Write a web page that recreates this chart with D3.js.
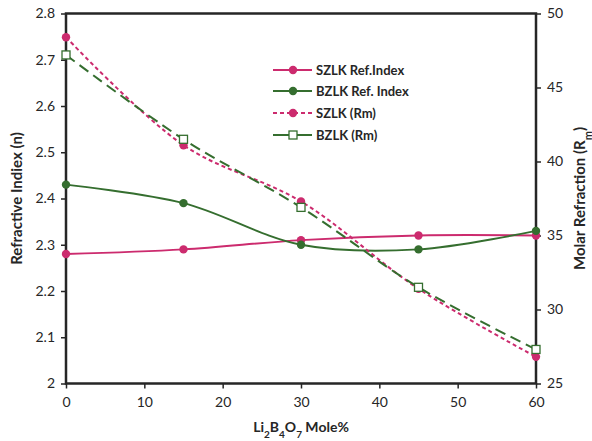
<!DOCTYPE html>
<html><head><meta charset="utf-8">
<script src="https://cdnjs.cloudflare.com/ajax/libs/d3/7.8.5/d3.min.js"></script>
<style>body{margin:0;background:#fff}svg{display:block}text{font-family:Lato,"Open Sans",sans-serif;fill:#262626}</style>
</head><body>
<svg id="c" width="592" height="441"></svg>
<script>
const xValues = [0, 15, 30, 45, 60];
const szlkRefIndex = [2.28, 2.29, 2.31, 2.32, 2.32];
const bzlkRefIndex = [2.43, 2.39, 2.30, 2.29, 2.33];
const szlkRm = [48.4, 41.1, 37.3, 31.4, 26.8];
const bzlkRm = [47.2, 41.5, 36.9, 31.5, 27.3];
const xTicks = [0, 10, 20, 30, 40, 50, 60];
const yLeftTicks = [2, 2.1, 2.2, 2.3, 2.4, 2.5, 2.6, 2.7, 2.8];
const yRightTicks = [25, 30, 35, 40, 45, 50];
const seriesNames = ["SZLK Ref.Index", "BZLK Ref. Index", "SZLK (Rm)", "BZLK (Rm)"];

const pink = "#CC2B6E", green = "#356E2F";
const svg = d3.select("#c");
const L = 66, R = 536, T = 13.5, B = 383.5;
const x = d3.scaleLinear().domain([0, 60]).range([L, R]);
const yL = d3.scaleLinear().domain([2, 2.8]).range([B, T]);
const yR = d3.scaleLinear().domain([25, 50]).range([B, T]);

// axes
const fmt = d => String(+d.toFixed(1));
const ax = svg.append("g").attr("transform", `translate(0,${B})`)
  .call(d3.axisBottom(x).tickValues(xTicks).tickSize(5).tickPadding(6).tickFormat(d3.format("d")));
const al = svg.append("g").attr("transform", `translate(${L},0)`)
  .call(d3.axisLeft(yL).tickValues(yLeftTicks).tickSize(5).tickPadding(6).tickFormat(fmt));
const ar = svg.append("g").attr("transform", `translate(${R},0)`)
  .call(d3.axisRight(yR).tickValues(yRightTicks).tickSize(5).tickPadding(6).tickFormat(d3.format("d")));
[ax, al, ar].forEach(g => {
  g.select(".domain").remove();
  g.selectAll(".tick line").attr("stroke", "#262626").attr("stroke-width", 1.5);
  g.selectAll(".tick text").style("font-size", "14px").attr("fill", "#262626");
});
ax.selectAll(".tick text").attr("dy", "0.9em");
// frame
svg.append("rect").attr("x", L).attr("y", T).attr("width", R - L).attr("height", B - T)
  .attr("fill", "none").attr("stroke", "#262626").attr("stroke-width", 2.5);

// series
const curve = d3.curveCatmullRom.alpha(0.5);
function drawLine(vals, scale, color, dash) {
  const line = d3.line().x((d, i) => x(xValues[i])).y(d => scale(d)).curve(curve);
  svg.append("path").datum(vals).attr("d", line).attr("fill", "none")
    .attr("stroke", color).attr("stroke-width", 2).attr("stroke-dasharray", dash);
}
drawLine(szlkRefIndex, yL, pink, null);
drawLine(bzlkRefIndex, yL, green, null);
drawLine(szlkRm, yR, pink, "4,3");
drawLine(bzlkRm, yR, green, "11,6");

function dots(vals, scale, color) {
  svg.append("g").selectAll("circle").data(vals).join("circle")
    .attr("cx", (d, i) => x(xValues[i])).attr("cy", d => scale(d)).attr("r", 4.2).attr("fill", color);
}
function squares(vals, scale, color) {
  svg.append("g").selectAll("rect").data(vals).join("rect")
    .attr("x", (d, i) => x(xValues[i]) - 4).attr("y", d => scale(d) - 4)
    .attr("width", 8).attr("height", 8).attr("fill", "#fff").attr("stroke", color).attr("stroke-width", 1.3);
}
dots(szlkRefIndex, yL, pink);
dots(bzlkRefIndex, yL, green);
dots(szlkRm, yR, pink);
squares(bzlkRm, yR, green);

// legend
const legY = [70, 91, 113, 135];
const legColors = [pink, green, pink, green];
const legDash = [null, null, "4,3", null];
seriesNames.forEach((name, i) => {
  const g = svg.append("g").attr("transform", `translate(273,${legY[i]})`);
  g.append("line").attr("x1", 0).attr("x2", 39).attr("y1", 0).attr("y2", 0)
    .attr("stroke", legColors[i]).attr("stroke-width", 2).attr("stroke-dasharray", legDash[i]);
  if (i === 3) {
    g.append("rect").attr("x", 16).attr("y", -4).attr("width", 8).attr("height", 8)
      .attr("fill", "#fff").attr("stroke", green).attr("stroke-width", 1.3);
  } else {
    g.append("circle").attr("cx", 20).attr("cy", 0).attr("r", 4.2).attr("fill", legColors[i]);
  }
  g.append("text").attr("x", 43).attr("y", 0).attr("dy", "0.35em")
    .style("font-size", "13px").style("font-weight", "bold").text(name);
});

// axis titles
const xt = svg.append("text").attr("x", (L + R) / 2).attr("y", 432).attr("text-anchor", "middle")
  .style("font-size", "14px").style("font-weight", "bold");
xt.append("tspan").text("Li");
xt.append("tspan").text("2").attr("baseline-shift", "sub").style("font-size", "10px");
xt.append("tspan").text("B");
xt.append("tspan").text("4").attr("baseline-shift", "sub").style("font-size", "10px");
xt.append("tspan").text("O");
xt.append("tspan").text("7").attr("baseline-shift", "sub").style("font-size", "10px");
xt.append("tspan").text(" Mole%");

svg.append("text").attr("transform", `translate(22,${(T + B) / 2}) rotate(-90)`)
  .attr("text-anchor", "middle").style("font-size", "15px").style("font-weight", "bold")
  .text("Refractive Indiex (n)");
const rt = svg.append("text").attr("transform", `translate(585,${(T + B) / 2}) rotate(-90)`)
  .attr("text-anchor", "middle").style("font-size", "15px").style("font-weight", "bold");
rt.append("tspan").text("Molar Refraction (R");
rt.append("tspan").text("m").attr("baseline-shift", "sub").style("font-size", "11px");
rt.append("tspan").text(")");
</script>
</body></html>
